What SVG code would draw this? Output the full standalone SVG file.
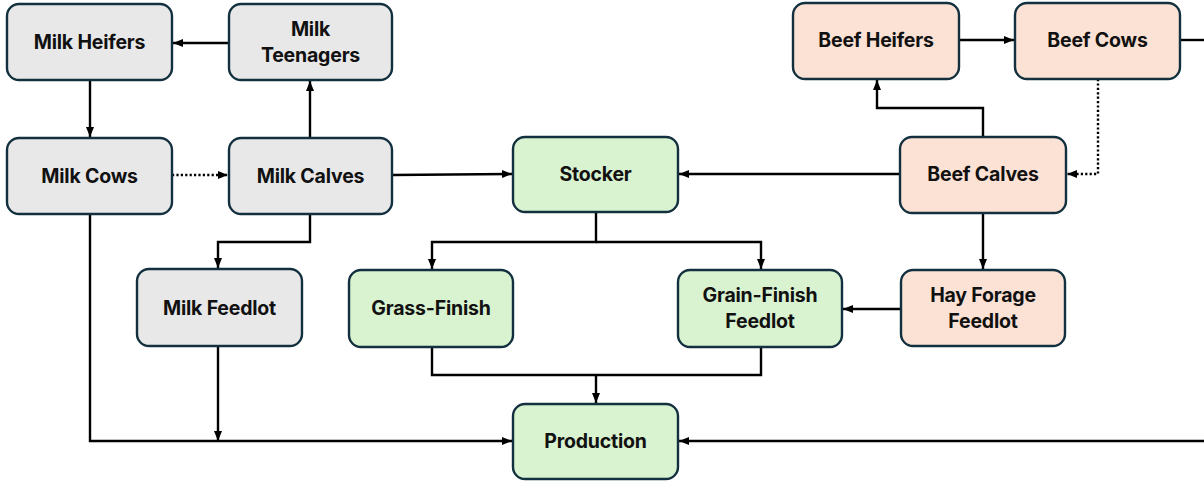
<svg xmlns="http://www.w3.org/2000/svg" width="1204" height="484" viewBox="0 0 1204 484">
<style>
.n rect{stroke:#13303f;stroke-width:2.4}
.milk rect{fill:#e8e8e8}
.green rect{fill:#d9f2d0}
.beef rect{fill:#fbe2d5}
text{font-family:Inter,"Open Sans","Liberation Sans",sans-serif;font-weight:700;font-size:19.5px;fill:#111;text-anchor:middle;dominant-baseline:central;letter-spacing:-0.2px}
#connectors path{fill:none;stroke:#000;stroke-width:2.4}
#connectors .dot{stroke-dasharray:2.2 2.2}
</style>
<defs>
<marker id="a" markerUnits="userSpaceOnUse" markerWidth="10" markerHeight="10" viewBox="0 0 10 10" refX="10" refY="5" orient="auto">
<path d="M0,1 L10,5 L0,9 Z" fill="#000"/>
</marker>
</defs>
<rect width="1204" height="484" fill="#fff"/>
<g id="connectors">
<path d="M229,43 H173" marker-end="url(#a)"/>
<path d="M90,80 V137" marker-end="url(#a)"/>
<path d="M310,138 V81" marker-end="url(#a)"/>
<path class="dot" d="M172,175 H228" marker-end="url(#a)"/>
<path d="M392,175 L512,174" marker-end="url(#a)"/>
<path d="M310,214 V242 H218 V268" marker-end="url(#a)"/>
<path d="M218,346 V441" marker-end="url(#a)"/>
<path d="M90,214 V441 H512" marker-end="url(#a)"/>
<path d="M596,212 V242 H432 V269" marker-end="url(#a)"/>
<path d="M596,242 H761 V269" marker-end="url(#a)"/>
<path d="M432,347 V375 H761 V347"/>
<path d="M596,375 V403" marker-end="url(#a)"/>
<path d="M1204,441 H679" marker-end="url(#a)"/>
<path d="M959,40 H1014" marker-end="url(#a)"/>
<path d="M1180,40 H1204"/>
<path d="M983,137 V108 H877 V80" marker-end="url(#a)"/>
<path class="dot" d="M1098,79 V174 H1067" marker-end="url(#a)"/>
<path d="M900,174 H679" marker-end="url(#a)"/>
<path d="M983,213 V269" marker-end="url(#a)"/>
<path d="M901,309 H843" marker-end="url(#a)"/>
</g>
<g id="milk-heifers" class="n milk"><rect x="7" y="4" width="165" height="76" rx="12"/><text x="89.5" y="42">Milk Heifers</text></g>
<g id="milk-teenagers" class="n milk"><rect x="229" y="4" width="163" height="76" rx="12"/><text x="310.5" y="29">Milk</text><text x="310.5" y="55">Teenagers</text></g>
<g id="milk-cows" class="n milk"><rect x="7" y="138" width="165" height="76" rx="12"/><text x="89.5" y="176">Milk Cows</text></g>
<g id="milk-calves" class="n milk"><rect x="229" y="138" width="163" height="76" rx="12"/><text x="310.5" y="176">Milk Calves</text></g>
<g id="milk-feedlot" class="n milk"><rect x="137" y="269" width="165" height="77" rx="12"/><text x="219.5" y="308">Milk Feedlot</text></g>
<g id="stocker" class="n green"><rect x="513" y="137" width="165" height="75" rx="12"/><text x="595.5" y="174">Stocker</text></g>
<g id="grass-finish" class="n green"><rect x="349" y="270" width="164" height="77" rx="12"/><text x="431" y="308">Grass-Finish</text></g>
<g id="grain-finish" class="n green"><rect x="678" y="270" width="164" height="77" rx="12"/><text x="760" y="295">Grain-Finish</text><text x="760" y="321">Feedlot</text></g>
<g id="production" class="n green"><rect x="513" y="404" width="165" height="75" rx="12"/><text x="595.5" y="441">Production</text></g>
<g id="beef-heifers" class="n beef"><rect x="793" y="3" width="166" height="76" rx="12"/><text x="876" y="40">Beef Heifers</text></g>
<g id="beef-cows" class="n beef"><rect x="1015" y="3" width="165" height="76" rx="12"/><text x="1097.5" y="40">Beef Cows</text></g>
<g id="beef-calves" class="n beef"><rect x="900" y="137" width="166" height="76" rx="12"/><text x="983" y="174">Beef Calves</text></g>
<g id="hay-forage" class="n beef"><rect x="901" y="270" width="164" height="76" rx="12"/><text x="983" y="295">Hay Forage</text><text x="983" y="321">Feedlot</text></g>
</svg>
